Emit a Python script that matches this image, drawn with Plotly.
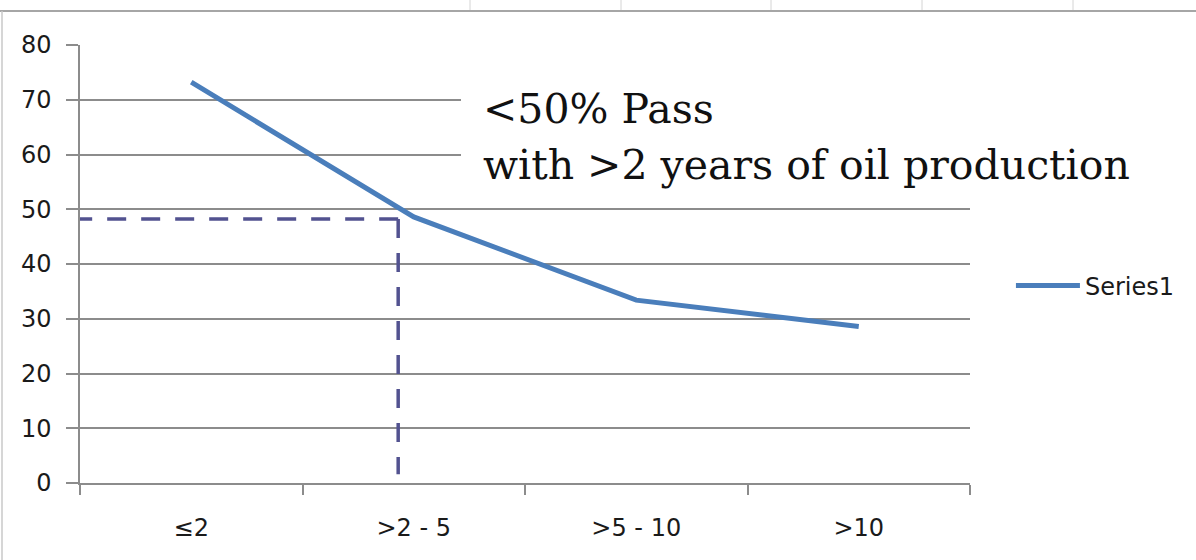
import plotly.graph_objects as go

categories = ["≤2", ">2 - 5", ">5 - 10", ">10"]
series1 = [73.2, 48.6, 33.4, 28.6]
y_ticks = [0, 10, 20, 30, 40, 50, 60, 70, 80]
# reference guide: level and position of the dashed marker
guide_level = 48.2
guide_x = 0.93
guide_bottom = 1.6
note_lines = ["<50% Pass", "with >2 years of oil production"]

fig = go.Figure()
fig.add_trace(go.Scatter(
    x=categories, y=series1, mode="lines", name="Series1",
    line=dict(color="#4a7ebb", width=5),
))

grid_c = "#8c8c8c"
tick_font = dict(family="DejaVu Sans", size=24, color="#1a1a1a")
fig.update_layout(
    width=1196, height=560,
    margin=dict(l=80, r=226, t=45, b=77),
    paper_bgcolor="white", plot_bgcolor="white",
    showlegend=True,
    legend=dict(x=1.046, y=0.45, xanchor="left", yanchor="middle",
                font=dict(family="DejaVu Sans", size=24, color="#1a1a1a"),
                itemwidth=64, bgcolor="rgba(0,0,0,0)"),
    xaxis=dict(type="category", range=[-0.5, 3.5], tickson="boundaries",
               ticks="outside", ticklen=10, tickcolor=grid_c, tickwidth=1.5,
               showline=True, linecolor=grid_c, linewidth=1.5,
               showgrid=False, zeroline=False, ticklabelstandoff=22,
               tickfont=tick_font),
    yaxis=dict(range=[0, 80], tickvals=y_ticks, ticks="outside", ticklen=12,
               tickcolor=grid_c, tickwidth=1.5,
               showline=True, linecolor=grid_c, linewidth=1.5,
               showgrid=True, gridcolor=grid_c, gridwidth=1.5, zeroline=False,
               ticklabelstandoff=10,
               tickfont=tick_font),
)

dash_c = "#525290"
fig.add_shape(type="line", xref="x", yref="y", x0=guide_x, x1=-0.5,
              y0=guide_level, y1=guide_level,
              line=dict(color=dash_c, width=3.5, dash="19px,15px"))
fig.add_shape(type="line", xref="x", yref="y", x0=guide_x, x1=guide_x,
              y0=guide_level, y1=guide_bottom,
              line=dict(color=dash_c, width=3.5, dash="19px,15px"))

def px_x(px):
    return (px - 80) / 890
def px_y(py):
    return (483 - py) / 438

# white box behind the note (hides gridlines like the text box in the original)
fig.add_shape(type="rect", xref="paper", yref="paper", layer="above",
              x0=px_x(461), x1=px_x(1196), y0=px_y(198), y1=px_y(62),
              line=dict(width=0), fillcolor="white")
for line_text, top_px in zip(note_lines, [84, 140]):
    fig.add_annotation(xref="paper", yref="paper", x=px_x(482), y=px_y(top_px),
                       xanchor="left", yanchor="top", align="left", showarrow=False,
                       text=line_text, borderpad=0,
                       font=dict(family="DejaVu Serif", size=41, color="#111"))

# spreadsheet frame around the chart
frame_c = "#a6a6a6"
fig.add_shape(type="line", xref="paper", yref="paper", x0=px_x(0), x1=px_x(1196),
              y0=px_y(11), y1=px_y(11), line=dict(color=frame_c, width=2))
fig.add_shape(type="line", xref="paper", yref="paper", x0=px_x(2), x1=px_x(2),
              y0=px_y(11), y1=px_y(560), line=dict(color="#c8c8c8", width=1.5))
for cx in [470, 621, 771, 922, 1073]:
    fig.add_shape(type="line", xref="paper", yref="paper", x0=px_x(cx), x1=px_x(cx),
                  y0=px_y(0), y1=px_y(10), line=dict(color="#d4d4d4", width=1))

fig.write_html("out.html", config={"displayModeBar": False},
               post_script="document.body.style.margin='0';")
